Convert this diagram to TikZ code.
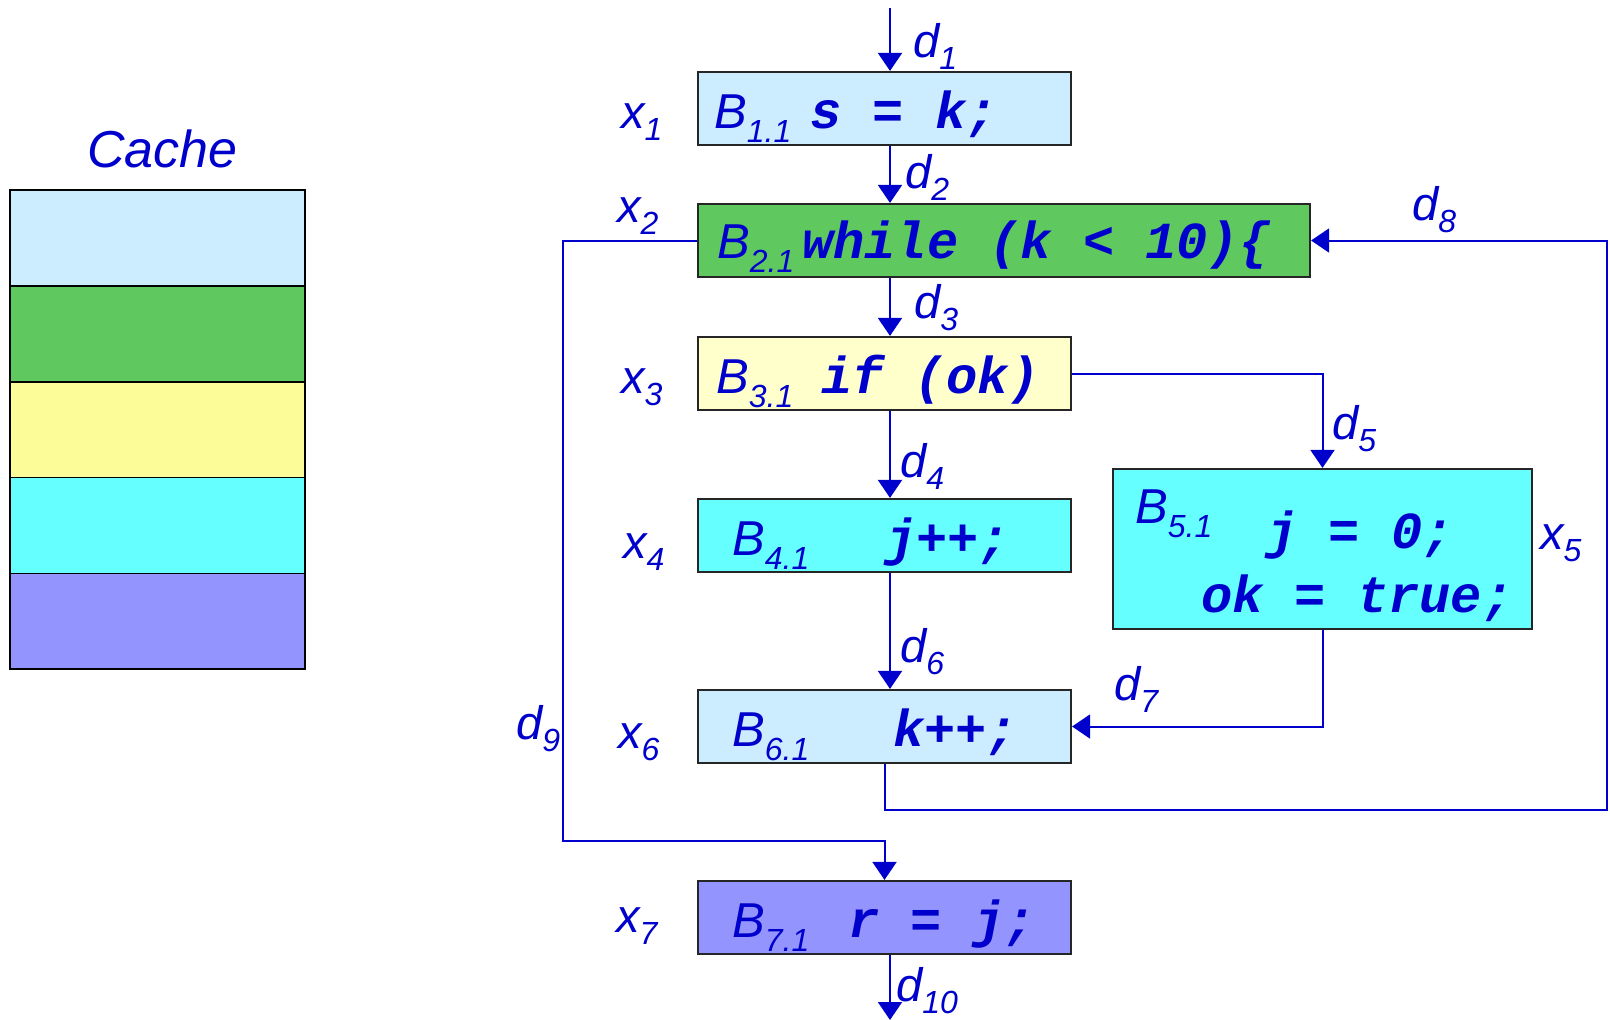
\documentclass[tikz,border=0pt]{standalone}
\usepackage{fontspec}
\setmainfont{Liberation Sans}
\newfontfamily\codefont{Liberation Mono}
\usetikzlibrary{arrows.meta}
\definecolor{tblue}{HTML}{0000CC}
\definecolor{clightblue}{HTML}{CCECFF}
\definecolor{cgreen}{HTML}{5FC95F}
\definecolor{cyellowbox}{HTML}{FFFFCC}
\definecolor{cyellow}{HTML}{FCFC99}
\definecolor{ccyan}{HTML}{66FFFF}
\definecolor{cpurple}{HTML}{9494FF}
\newcommand\lab[2]{{\fontsize{47}{47}\selectfont\itshape #1\raisebox{-12pt}{\fontsize{32}{32}\selectfont #2}}}
\newcommand\blab[2]{{\fontsize{49}{49}\selectfont\itshape #1\raisebox{-14pt}{\fontsize{32}{32}\selectfont #2}}}
\newcommand\code[1]{{\codefont\bfseries\itshape\fontsize{52}{52}\selectfont #1}}
\tikzset{
  blk/.style={draw=black!85, line width=2.2pt, inner sep=0pt},
  cachecell/.style={draw=black, line width=1.8pt, inner sep=0pt, minimum width=294.7pt, minimum height=95.9pt},
  txt/.style={text=tblue, anchor=base west, inner sep=0pt},
  arr/.style={draw=tblue, line width=2pt, -{Triangle[width=24pt,length=18pt]}},
  ln/.style={draw=tblue, line width=2pt}
}
\begin{document}
\begin{tikzpicture}[x=1pt,y=-1pt]
\useasboundingbox (0,0) rectangle (1610,1020);
% cache
\node[txt] (cachetitle) at (87,167) {\fontsize{52}{52}\selectfont\itshape Cache};
\node[cachecell, fill=clightblue] (c1) at (157.6,237.8) {};
\node[cachecell, fill=cgreen] (c2) at (157.6,333.7) {};
\node[cachecell, fill=cyellow] (c3) at (157.6,429.6) {};
\node[cachecell, fill=ccyan] (c4) at (157.6,525.5) {};
\node[cachecell, fill=cpurple] (c5) at (157.6,621.4) {};
% blocks
\node[blk, fill=clightblue, minimum width=373pt, minimum height=73pt] (B1) at (884.5,108.5) {};
\node[blk, fill=cgreen, minimum width=612pt, minimum height=73pt] (B2) at (1004,240.5) {};
\node[blk, fill=cyellowbox, minimum width=373pt, minimum height=73pt] (B3) at (884.5,373.5) {};
\node[blk, fill=ccyan, minimum width=373pt, minimum height=73pt] (B4) at (884.5,535.5) {};
\node[blk, fill=ccyan, minimum width=419pt, minimum height=160pt] (B5) at (1322.5,549) {};
\node[blk, fill=clightblue, minimum width=373pt, minimum height=73pt] (B6) at (884.5,726.5) {};
\node[blk, fill=cpurple, minimum width=373pt, minimum height=73pt] (B7) at (884.5,917.5) {};
% block texts
\node[txt] (B1l) at (714,128) {\blab{B}{1.1}};
\node[txt] (B1c) at (810,128) {\code{s = k;}};
\node[txt] (B2l) at (717,258) {\blab{B}{2.1}};
\node[txt] (B2c) at (802,258) {\code{while (k < 10)\{}};
\node[txt] (B3l) at (716,393) {\blab{B}{3.1}};
\node[txt] (B3c) at (821,393) {\code{if (ok)}};
\node[txt] (B4l) at (732,555) {\blab{B}{4.1}};
\node[txt] (B4c) at (885,555) {\code{j++;}};
\node[txt] (B5l) at (1135,523) {\blab{B}{5.1}};
\node[txt] (B5c) at (1266,548) {\code{j = 0;}};
\node[txt] (B5d) at (1201,612) {\code{ok = true;}};
\node[txt] (B6l) at (732,746) {\blab{B}{6.1}};
\node[txt] (B6c) at (893,746) {\code{k++;}};
\node[txt] (B7l) at (732,937) {\blab{B}{7.1}};
\node[txt] (B7c) at (848,937) {\code{r = j;}};
% x labels
\node[txt] (x1) at (621,128) {\lab{x}{1}};
\node[txt] (x2) at (617,222) {\lab{x}{2}};
\node[txt] (x3) at (621,393) {\lab{x}{3}};
\node[txt] (x4) at (623,558) {\lab{x}{4}};
\node[txt] (x5) at (1540,549) {\lab{x}{5}};
\node[txt] (x6) at (618,748) {\lab{x}{6}};
\node[txt] (x7) at (616,932) {\lab{x}{7}};
% d labels
\node[txt] (d1) at (913,57) {\lab{d}{1}};
\node[txt] (d2) at (905,188) {\lab{d}{2}};
\node[txt] (d3) at (914,318) {\lab{d}{3}};
\node[txt] (d4) at (900,477) {\lab{d}{4}};
\node[txt] (d5) at (1332,439) {\lab{d}{5}};
\node[txt] (d6) at (900,662) {\lab{d}{6}};
\node[txt] (d7) at (1114,700) {\lab{d}{7}};
\node[txt] (d8) at (1412,220) {\lab{d}{8}};
\node[txt] (d9) at (516,739) {\lab{d}{9}};
\node[txt] (d10) at (896,1001) {\lab{d}{10}};
% connectors
\coordinate (top) at (890,8);
\coordinate (bot) at (890,1020);
\coordinate (c8a) at (1607,810);
\coordinate (c9a) at (563,841);
\draw[arr] (top) -- (top |- B1.north);
\draw[arr] (B1.south -| top) -- (B2.north -| top);
\draw[arr] (B2.south -| top) -- (B3.north -| top);
\draw[arr] (B3.south -| top) -- (B4.north -| top);
\draw[arr] (B3.east) -| (B5.north);
\draw[arr] (B4.south -| top) -- (B6.north -| top);
\draw[arr] (B5.south) |- (B6.east);
\draw[arr] (B6.south) |- (c8a) |- (B2.east);
\draw[arr] (B2.west) -| (c9a) -| (B7.north);
\draw[arr] (B7.south -| top) -- (bot);
\end{tikzpicture}
\end{document}
